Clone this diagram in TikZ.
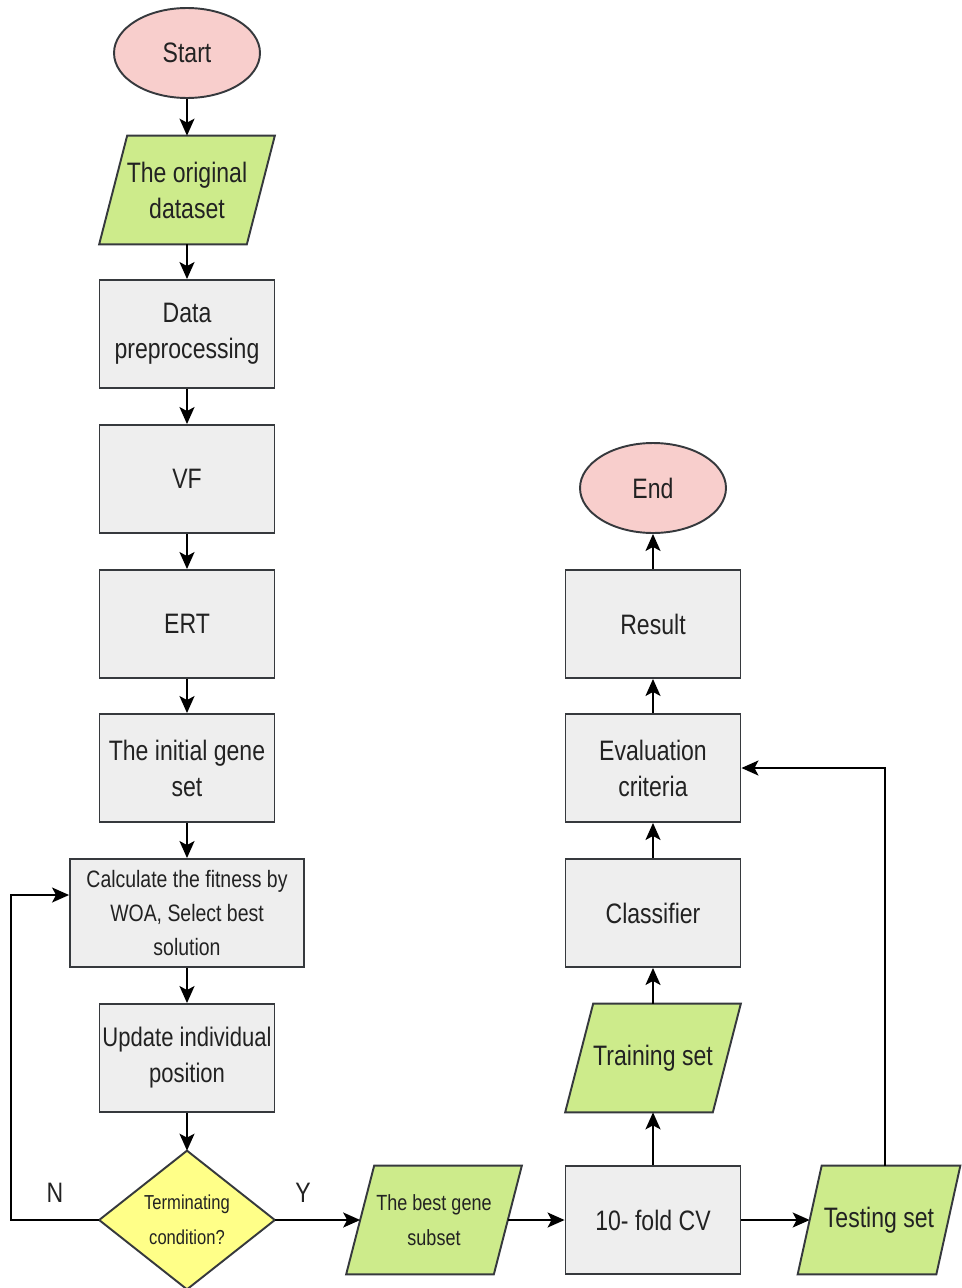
\documentclass[tikz,border=0pt]{standalone}
\usepackage{fontspec}
\setmainfont[FakeStretch=0.82]{Liberation Sans}
\usetikzlibrary{arrows.meta,calc,backgrounds,shapes.geometric}
\definecolor{gfill}{HTML}{EEEEEE}
\definecolor{edge}{HTML}{36393D}
\definecolor{pinkf}{HTML}{F8CECC}
\definecolor{grn}{HTML}{CDEB8B}
\definecolor{yel}{HTML}{FFFF88}
\definecolor{txt}{HTML}{222222}
\begin{document}
\begin{tikzpicture}[x=0.02cm,y=-0.02cm,
  every node/.style={text=txt, align=center, font=\fontsize{16}{20.5}\selectfont},
  box/.style={draw=edge, fill=gfill, line width=1.1pt, minimum width=3.5cm, minimum height=2.16cm, inner sep=0pt},
  term/.style={ellipse, draw=edge, fill=pinkf, line width=1.1pt, minimum width=2.92cm, minimum height=1.8cm, inner sep=0pt},
  iobox/.style={minimum width=2.94cm, minimum height=2.16cm, inner sep=0pt},
  shapeline/.style={draw=edge, line width=1.1pt},
  arr/.style={-{Stealth[length=0.34cm,width=0.3cm,inset=0.08cm]}, line width=1.1pt, draw=black}
]
\useasboundingbox (0,0) rectangle (961,1288);
% left column
\node[term] (start) at (187,53) {Start};
\node[iobox] (ds) at (187,190) {The original\\dataset};
\node[box] (dp) at (187,334) {Data\\preprocessing};
\node[box] (vf) at (187,479) {VF};
\node[box] (ert) at (187,624) {ERT};
\node[box] (init) at (187,768) {The initial gene\\set};
\node[box, minimum width=4.68cm, font=\fontsize{13.5}{19.3}\selectfont] (calc) at (187,913) {Calculate the fitness by\\WOA, Select best\\solution};
\node[box, font=\fontsize{15.3}{20.5}\selectfont] (upd) at (187,1058) {Update individual\\position};
\node[minimum width=3.5cm, minimum height=2.76cm, inner sep=0pt, font=\fontsize{11.5}{20}\selectfont] (dec) at (187,1220) {Terminating\\condition?};
% bottom row
\node[iobox, font=\fontsize{12.5}{20}\selectfont] (best) at (434,1220) {The best gene\\subset};
\node[box] (cv) at (653,1220) {10- fold CV};
\node[iobox, minimum width=2.76cm] (test) at (879,1220) {Testing set};
% right column
\node[iobox] (train) at (653,1058) {Training set};
\node[box] (cls) at (653,913) {Classifier};
\node[box] (eval) at (653,768) {Evaluation\\criteria};
\node[box] (res) at (653,624) {Result};
\node[term] (end) at (653,488) {End};
% labels
\node (lblN) at (55,1193) {N};
\node (lblY) at (303,1193) {Y};
% shapes on background
\begin{scope}[on background layer]
\foreach \n/\s in {ds/14,best/14,train/14,test/12}
  \filldraw[shapeline, fill=grn] ($(\n.north west)+(\s,0)$) -- ($(\n.north east)+(\s,0)$) -- ($(\n.south east)-(\s,0)$) -- ($(\n.south west)-(\s,0)$) -- cycle;
\filldraw[shapeline, fill=yel] (dec.north) -- (dec.east) -- (dec.south) -- (dec.west) -- cycle;
\end{scope}
% connectors
\draw[arr] (start) -- (ds);
\draw[arr] (ds) -- (dp);
\draw[arr] (dp) -- (vf);
\draw[arr] (vf) -- (ert);
\draw[arr] (ert) -- (init);
\draw[arr] (init) -- (calc);
\draw[arr] (calc) -- (upd);
\draw[arr] (upd.south) -- (dec.north);
\draw[arr] (dec.west) -- ++(-88,0) |- ([yshift=0.36cm]calc.west);
\draw[arr] (dec.east) -- (best.west);
\draw[arr] (best.east) -- (cv.west);
\draw[arr] (cv.east) -- (test.west);
\draw[arr] (cv.north) -- (train.south);
\draw[arr] (train.north) -- (cls.south);
\draw[arr] (cls) -- (eval);
\draw[arr] (eval) -- (res);
\draw[arr] (res) -- (end);
\draw[arr] ([xshift=0.12cm]test.north) |- (eval.east);
\end{tikzpicture}
\end{document}
